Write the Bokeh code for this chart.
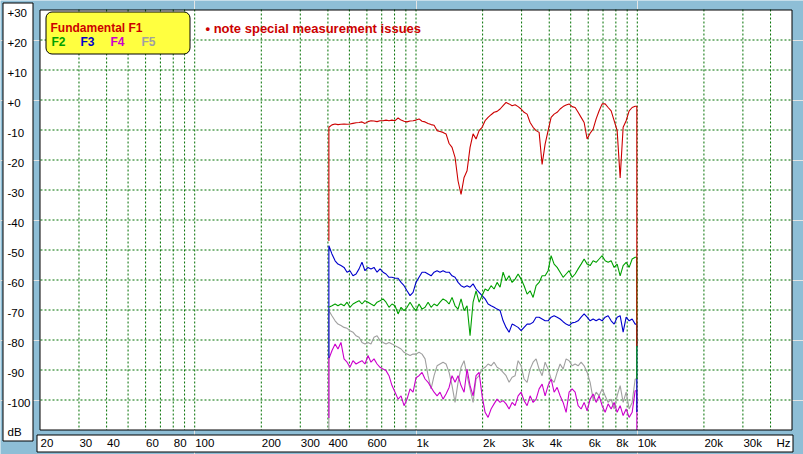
import math
from bokeh.plotting import figure
from bokeh.models import Range1d, Label, BoxAnnotation
from bokeh.embed import file_html
from bokeh.resources import INLINE

# ---------------- data ----------------
FREQ = [404, 417, 431, 444, 458, 473, 488, 503, 519, 536, 553, 570, 588, 607, 626,
        646, 667, 688, 710, 732, 755, 779, 804, 830, 856, 883, 911, 940, 970, 1000,
        1032, 1065, 1099, 1134, 1170, 1207, 1245, 1284, 1325, 1367, 1411, 1455, 1501,
        1549, 1598, 1649, 1701, 1755, 1811, 1868, 1928, 1989, 2052, 2117, 2184, 2253,
        2325, 2399, 2475, 2553, 2634, 2718, 2804, 2893, 2985, 3079, 3177, 3278, 3382,
        3489, 3600, 3714, 3832, 3953, 4079, 4208, 4342, 4479, 4621, 4768, 4919, 5075,
        5236, 5402, 5574, 5751, 5933, 6121, 6315, 6516, 6722, 6936, 7156, 7383, 7617,
        7858, 8108, 8365, 8630, 8904, 9187, 9478, 9779]
END_FREQ = 9950

F1 = [-9.1, -8.3, -8.0, -8.2, -8.1, -8.0, -8.1, -8.0, -7.8, -7.6, -7.5, -7.3, -7.8, -7.2,
      -6.9, -7.0, -7.2, -6.9, -6.9, -6.7, -6.9, -6.7, -6.9, -6.0, -6.7, -7.1, -7.3, -7.0,
      -6.9, -6.7, -6.3, -7.1, -7.3, -7.8, -8.2, -8.4, -10.2, -10.5, -10.8, -11.3, -14.5,
      -15.8, -19.1, -27.0, -31.5, -25.8, -23.6, -15.8, -11.3, -13.0, -10.2, -9.1, -6.9,
      -5.8, -4.9, -4.1, -3.8, -3.0, -1.9, -0.8, -1.3, -1.9, -1.6, -2.2, -3.0, -4.1, -4.7,
      -7.5, -9.1, -10.2, -10.8, -21.5, -14.7, -10.2, -5.8, -4.7, -4.1, -3.0, -2.2, -1.7,
      -1.3, -2.2, -2.5, -4.1, -5.8, -7.5, -13.0, -11.1, -9.7, -6.3, -3.6, -1.3, -1.3,
      -2.5, -3.6, -6.9, -10.2, -26.0, -9.1, -6.9, -3.6, -2.5, -2.1]

F2 = [-69.1, -68.6, -68.0, -68.6, -68.0, -68.6, -67.4, -69.1, -68.0, -67.4, -66.9, -68.0,
      -66.9, -67.4, -68.0, -68.6, -67.4, -66.9, -66.3, -67.4, -69.1, -68.0, -68.6, -71.3,
      -69.1, -70.2, -69.1, -67.4, -69.1, -70.2, -68.0, -69.7, -69.1, -67.4, -69.1, -68.0,
      -68.6, -67.4, -66.3, -66.9, -68.0, -65.8, -68.6, -69.7, -66.3, -70.2, -68.6, -78.6,
      -67.4, -63.6, -67.4, -65.2, -63.0, -63.6, -61.9, -63.0, -60.8, -62.4, -57.4, -60.2,
      -58.6, -60.8, -59.7, -58.0, -59.7, -61.9, -64.7, -63.6, -65.8, -61.9, -60.8, -58.6,
      -58.6, -56.9, -51.9, -54.7, -55.8, -57.4, -59.1, -58.0, -56.9, -59.1, -58.0, -56.3,
      -54.7, -53.0, -54.7, -55.2, -53.6, -54.1, -53.0, -51.9, -53.6, -54.1, -53.6, -55.8,
      -54.7, -58.6, -55.2, -54.1, -55.8, -53.0, -52.4]

F3 = [-48.6, -51.3, -53.6, -54.7, -55.2, -55.8, -57.4, -56.9, -58.6, -58.0, -56.3, -54.1,
      -56.9, -55.8, -56.3, -55.8, -57.4, -56.3, -57.4, -58.0, -59.1, -59.1, -59.4, -59.4,
      -60.8, -61.9, -63.6, -65.2, -64.1, -60.8, -59.1, -57.4, -57.4, -58.0, -58.6, -57.4,
      -56.9, -57.4, -56.9, -57.4, -57.4, -58.6, -59.1, -60.8, -61.9, -62.4, -61.9, -62.4,
      -61.3, -63.0, -64.1, -65.2, -66.3, -68.0, -68.6, -69.1, -69.7, -70.2, -73.6, -75.8,
      -77.4, -74.7, -75.2, -75.8, -76.9, -75.8, -74.7, -74.7, -74.1, -72.4, -72.4, -73.0,
      -73.6, -73.6, -72.4, -71.9, -72.4, -73.0, -73.9, -74.7, -75.2, -74.3, -74.1, -73.6,
      -72.4, -71.3, -72.4, -73.6, -73.0, -73.6, -73.0, -73.6, -72.4, -71.9, -73.6, -74.7,
      -72.4, -71.9, -77.4, -72.4, -73.6, -73.0, -74.7]

F4 = [-86.3, -83.6, -81.3, -83.0, -80.8, -86.3, -87.4, -89.1, -86.9, -88.0, -87.4, -86.9,
      -88.0, -85.2, -87.4, -86.3, -88.0, -89.1, -89.7, -90.2, -91.9, -95.2, -97.4, -99.7,
      -98.6, -101.9, -99.7, -96.3, -97.4, -92.6, -91.9, -90.8, -93.0, -94.1, -95.8, -97.4,
      -98.6, -97.4, -99.7, -98.0, -95.8, -91.9, -94.1, -91.9, -95.2, -97.4, -89.7, -95.2,
      -98.6, -91.9, -90.8, -98.6, -104.1, -105.8, -103.0, -101.3, -99.7, -100.8, -100.2,
      -101.3, -103.0, -100.8, -101.9, -98.6, -97.4, -100.2, -101.9, -98.6, -100.8, -99.7,
      -96.3, -94.7, -98.6, -95.2, -93.0, -97.4, -95.8, -98.6, -100.8, -104.1, -97.4, -96.3,
      -97.4, -101.9, -103.0, -100.8, -103.6, -99.7, -98.0, -100.8, -98.6, -101.9, -104.1,
      -101.3, -103.0, -100.8, -104.1, -101.9, -105.2, -103.0, -105.8, -104.1, -96.9]

F5 = [-70.2, -71.9, -73.6, -74.7, -75.2, -75.8, -76.1, -76.9, -77.4, -78.6, -79.1, -80.8,
      -81.3, -80.8, -81.3, -79.1, -78.6, -80.2, -80.8, -81.3, -80.8, -81.3, -81.9, -82.4,
      -83.0, -84.1, -84.7, -85.2, -84.7, -84.7, -84.1, -84.7, -86.3, -91.9, -96.3, -91.9,
      -88.6, -88.0, -87.4, -88.0, -90.8, -95.2, -100.8, -94.1, -89.1, -86.9, -91.9, -96.3,
      -100.8, -93.0, -91.9, -89.7, -89.1, -88.0, -88.6, -87.4, -89.1, -89.7, -90.8, -91.9,
      -94.1, -92.4, -91.9, -86.9, -88.6, -93.0, -94.1, -89.7, -87.4, -86.3, -89.7, -91.9,
      -87.4, -89.7, -93.0, -94.1, -90.8, -88.0, -89.7, -86.3, -86.9, -88.6, -88.0, -88.6,
      -87.4, -88.6, -90.8, -94.1, -99.7, -97.4, -98.6, -96.3, -98.6, -100.8, -99.7, -103.0,
      -98.6, -95.2, -100.8, -97.4, -103.0, -100.8, -93.0]

# level each trace jumps from / to at the band edges (dB)
EDGE_START = {"F1": -47, "F2": -69.1, "F3": -86, "F4": -106, "F5": -110}
EDGE_END = {"F1": -82, "F2": -93, "F3": -104, "F4": -110, "F5": -100}

X_MIN, X_MAX = 20, 50000
Y_MIN, Y_MAX = -110, 30
X_GRID = [30, 40, 50, 60, 70, 80, 90, 100, 200, 300, 400, 500, 600, 700, 800, 900,
          1000, 2000, 3000, 4000, 5000, 6000, 7000, 8000, 9000, 10000, 20000, 30000, 40000]
Y_GRID = [-100, -90, -80, -70, -60, -50, -40, -30, -20, -10, 0, 10, 20]

X_TICKS = [20, 30, 40, 60, 80, 100, 200, 300, 400, 600, 1000, 2000, 3000, 4000, 6000,
           8000, 10000, 20000, 30000]
X_TICK_TEXT = ["20", "30", "40", "60", "80", "100", "200", "300", "400", "600", "1k",
               "2k", "3k", "4k", "6k", "8k", "10k", "20k", "30k"]
Y_TICKS = [30, 20, 10, 0, -10, -20, -30, -40, -50, -60, -70, -80, -90, -100]
Y_TICK_TEXT = ["+30", "+20", "+10", "+0", "-10", "-20", "-30", "-40", "-50", "-60",
               "-70", "-80", "-90", "-100"]
X_UNIT, Y_UNIT = "Hz", "dB"

LEGEND_MAIN = "Fundamental F1"
LEGEND_ITEMS = ["F2", "F3", "F4", "F5"]
NOTE = "\u2022 note special measurement issues"

# ---------------- style / layout ----------------
BG = "#8EBED6"
GRID_C = "#007000"
RED, GREEN, BLUE, MAG, GRAY = "#CC0000", "#00A000", "#0000CC", "#CC00CC", "#A0A0A0"
YELLOW = "#FFFF40"
FONT = "Liberation Sans"
TICK_FS = "11.5px"

W, H = 803, 454
# pixel centres of the plot-area border
PL, PR, PT, PB = 39.5, 791.5, 9.5, 429.5
px_dec = (PR - PL) / math.log10(X_MAX / X_MIN)
x_lo = X_MIN * 10 ** (-PL / px_dec)
x_hi = X_MAX * 10 ** ((W - PR) / px_dec)
px_db = (PB - PT) / (Y_MAX - Y_MIN)
y_hi = Y_MAX + PT / px_db
y_lo = Y_MIN - (H - PB) / px_db

p = figure(width=W, height=H, x_axis_type="log",
           x_range=Range1d(x_lo, x_hi), y_range=Range1d(y_lo, y_hi),
           x_axis_location=None, y_axis_location=None,
           toolbar_location=None, tools="", output_backend="svg", title=None,
           min_border=0, min_border_left=0, min_border_right=0,
           min_border_top=0, min_border_bottom=0,
           border_fill_color=BG, background_fill_color=BG, outline_line_color=None)

# white plot area
p.quad(left=[X_MIN], right=[X_MAX], bottom=[Y_MIN], top=[Y_MAX],
       fill_color="white", line_color=None)

# dotted grid (dash phase starts on whole pixels so the dots stay crisp)
top_edge = Y_MAX + 0.5 / px_db
left_edge = X_MIN * 10 ** (0.5 / px_dec)
p.segment(x0=X_GRID, x1=X_GRID, y0=[top_edge] * len(X_GRID), y1=[Y_MIN] * len(X_GRID),
          line_color=GRID_C, line_width=1, line_dash="2 2")
p.segment(x0=[left_edge] * len(Y_GRID), x1=[X_MAX] * len(Y_GRID), y0=Y_GRID, y1=Y_GRID,
          line_color=GRID_C, line_width=1, line_dash="2 2")

series = [("F5", F5, GRAY), ("F4", F4, MAG), ("F3", F3, BLUE), ("F2", F2, GREEN), ("F1", F1, RED)]
for name, vals, col in series:
    xs = [FREQ[0]] + FREQ + [END_FREQ, END_FREQ]
    ys = [EDGE_START[name]] + vals + [vals[-1], EDGE_END[name]]
    p.line(xs, ys, line_color=col, line_width=1.1)

# plot-area border
p.add_layout(BoxAnnotation(left=X_MIN, right=X_MAX, bottom=Y_MIN, top=Y_MAX,
                           fill_alpha=0, line_color="black", line_alpha=1, line_width=1))


def sbox(l, r, t, b, **kw):
    """box in screen pixels measured from the top-left corner"""
    return BoxAnnotation(left=l, right=r, top=H - t, bottom=H - b,
                         left_units="screen", right_units="screen",
                         top_units="screen", bottom_units="screen",
                         fill_alpha=1, line_alpha=1, line_color="black", line_width=1, **kw)


# y-axis and x-axis label boxes
p.add_layout(sbox(2.5, 32.5, 2.5, 440.5, fill_color="white"))
p.add_layout(sbox(36.5, 792.5, 434.5, 451.5, fill_color="white"))

for v, t in zip(Y_TICKS, Y_TICK_TEXT):
    p.add_layout(Label(x=7, y=v, x_units="screen", y_units="data", text=t,
                       y_offset=-2.5, text_baseline="middle", text_align="left",
                       text_font=FONT, text_font_size=TICK_FS, text_color="black"))
p.add_layout(Label(x=7, y=H - 431.5, x_units="screen", y_units="screen", text=Y_UNIT,
                   text_baseline="middle", text_align="left",
                   text_font=FONT, text_font_size=TICK_FS, text_color="black"))
for f, t in zip(X_TICKS, X_TICK_TEXT):
    p.add_layout(Label(x=f, y=H - 442.5, x_units="data", y_units="screen", text=t,
                       x_offset=0.5, text_baseline="middle", text_align="left",
                       text_font=FONT, text_font_size=TICK_FS, text_color="black"))
p.add_layout(Label(x=776, y=H - 442.5, x_units="screen", y_units="screen", text=X_UNIT,
                   text_baseline="middle", text_align="left",
                   text_font=FONT, text_font_size=TICK_FS, text_color="black"))

# legend box
p.add_layout(sbox(45.5, 189.5, 11.5, 53.5, fill_color=YELLOW, border_radius=6))
p.add_layout(Label(x=50, y=H - 27, x_units="screen", y_units="screen", text=LEGEND_MAIN,
                   text_baseline="alphabetic", text_font=FONT, text_font_size="12px",
                   text_font_style="bold", text_color=RED))
for t, xx, col in zip(LEGEND_ITEMS, [51, 80, 110, 141], [GREEN, BLUE, MAG, GRAY]):
    p.add_layout(Label(x=xx, y=H - 41, x_units="screen", y_units="screen", text=t,
                       text_baseline="alphabetic", text_font=FONT, text_font_size="12px",
                       text_font_style="bold", text_color=col))
p.add_layout(Label(x=205, y=H - 28.3, x_units="screen", y_units="screen", text=NOTE,
                   text_baseline="alphabetic", text_font=FONT, text_font_size="13px",
                   text_font_style="bold", text_color=RED))

open("out.html", "w").write(file_html(p, INLINE))
